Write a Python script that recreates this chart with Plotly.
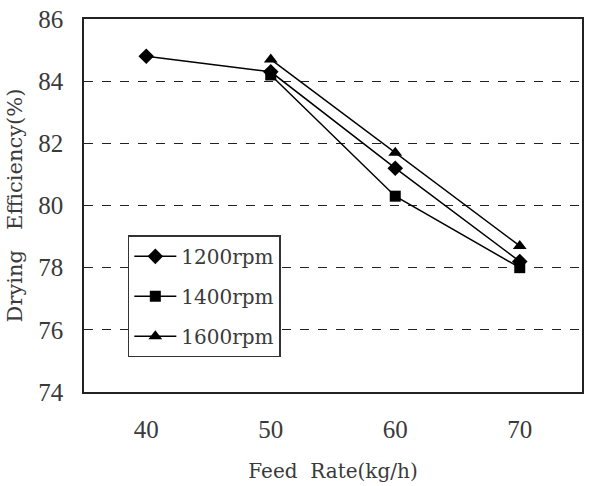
import plotly.graph_objects as go

feed_rates = ["40", "50", "60", "70"]
series_names = ["1200rpm", "1400rpm", "1600rpm"]
eff_1200 = [84.8, 84.3, 81.2, 78.2]
eff_1400 = [None, 84.2, 80.3, 78.0]
eff_1600 = [None, 84.7, 81.7, 78.7]
y_ticks = [74, 76, 78, 80, 82, 84, 86]

symbols = ["diamond", "square", "triangle-up"]
sizes = [12, 11, 12]
serif = "Liberation Serif"
wide_serif = "DejaVu Serif"
text_color = "#3a3a3a"

fig = go.Figure()
for i, (name, vals) in enumerate(zip(series_names, [eff_1200, eff_1400, eff_1600])):
    xs = [x for x, v in zip(feed_rates, vals) if v is not None]
    ys = [v for v in vals if v is not None]
    fig.add_trace(go.Scatter(
        x=xs, y=ys, name=name, mode="lines+markers",
        line=dict(color="black", width=1.5),
        marker=dict(symbol=symbols[i], size=sizes[i], color="black"),
        legendgroup=name,
    ))

fig.update_layout(
    width=590, height=486,
    margin=dict(l=84, r=6, t=14, b=94),
    paper_bgcolor="white", plot_bgcolor="white",
    font=dict(family=serif, color=text_color, size=20),
    showlegend=True,
    legend=dict(
        x=0.088, y=0.42, xanchor="left", yanchor="top",
        bordercolor="#333", borderwidth=1.5, bgcolor="white",
        font=dict(family=wide_serif, size=20, color=text_color),
        tracegroupgap=11, itemwidth=42,
    ),
    xaxis=dict(
        type="category", range=[-0.5, 3.5],
        showline=True, linecolor="#222", linewidth=1.5, mirror=True,
        showgrid=False, ticks="",
        tickfont=dict(family=serif, size=25, color=text_color),
        ticklabelstandoff=14,
        title=dict(text="Feed  Rate(kg/h)", font=dict(family=wide_serif, size=20), standoff=22),
    ),
    yaxis=dict(
        range=[74, 86], tickvals=y_ticks,
        showline=True, linecolor="#222", linewidth=1.5, mirror=True,
        showgrid=True, gridcolor="#222", gridwidth=1.2, griddash="dash",
        zeroline=False, ticks="",
        tickfont=dict(family=serif, size=25, color=text_color),
        ticklabelstandoff=14,
        title=dict(text="Drying   Efficiency(%)", font=dict(family=wide_serif, size=21), standoff=10),
    ),
)

fig.write_html("out.html")
